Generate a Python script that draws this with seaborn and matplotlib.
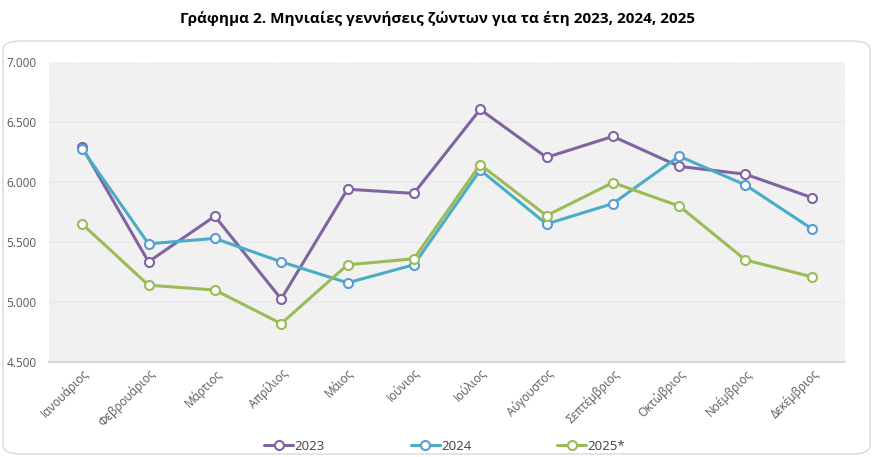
import pandas as pd
import seaborn as sns
import matplotlib.pyplot as plt
from matplotlib.patches import Rectangle, FancyBboxPatch
from matplotlib.ticker import FuncFormatter

# ------------------------------------------------------------
# Data
# ------------------------------------------------------------
months = ["Ιανουάριος", "Φεβρουάριος", "Μάρτιος", "Απρίλιος", "Μάιος", "Ιούνιος",
          "Ιούλιος", "Αύγουστος", "Σεπτέμβριος", "Οκτώβριος", "Νοέμβριος", "Δεκέμβριος"]
births_2023 = [6290, 5335, 5715, 5025, 5940, 5905, 6605, 6205, 6380, 6130, 6065, 5870]
births_2024 = [6275, 5485, 5530, 5335, 5160, 5310, 6100, 5650, 5820, 6215, 5975, 5610]
births_2025 = [5650, 5140, 5100, 4820, 5310, 5360, 6145, 5720, 5995, 5800, 5350, 5210]
series_names = ["2023", "2024", "2025*"]

df = pd.DataFrame({
    "month": months * 3,
    "births": births_2023 + births_2024 + births_2025,
    "series": sum([[s] * len(months) for s in series_names], []),
})

line_colors = {"2023": "#8064A2", "2024": "#4BACC6", "2025*": "#9BBB59"}
edge_colors = {"2023": "#8064A2", "2024": "#5B9BD5", "2025*": "#9BBB59"}

# ------------------------------------------------------------
# Plot
# ------------------------------------------------------------
sns.set_style("white")
plt.rcParams["font.family"] = ["Open Sans", "DejaVu Sans"]
plt.rcParams["hatch.linewidth"] = 0.5

fig = plt.figure(figsize=(8.75, 4.57), dpi=100)
ax = fig.add_axes([49 / 875, 1 - 362 / 457, 796 / 875, 300 / 457])

# rounded frame around the chart
fig.patches.append(FancyBboxPatch((3 / 875, 3 / 457), 867 / 875, 413 / 457,
                                  boxstyle="round,pad=0,rounding_size=0.02",
                                  transform=fig.transFigure, facecolor="none",
                                  edgecolor="#D9D9D9", linewidth=1.0, zorder=0))

# hatched plot area
ax.add_patch(Rectangle((0, 0), 1, 1, transform=ax.transAxes, facecolor="white",
                       edgecolor="#DCDCDC", hatch="\\" * 13, linewidth=0, zorder=0))

for name in series_names:
    sub = df[df["series"] == name]
    sns.lineplot(data=sub, x="month", y="births", ax=ax, sort=False,
                 color=line_colors[name], linewidth=2.2, marker="o", markersize=6.5,
                 markerfacecolor="white", markeredgecolor=edge_colors[name],
                 markeredgewidth=1.5, label=name, zorder=3)

ax.set_ylim(4500, 7000)
ax.set_xlim(-0.5, len(months) - 0.5)
ax.set_yticks([4500, 5000, 5500, 6000, 6500, 7000])
ax.yaxis.set_major_formatter(FuncFormatter(lambda v, p: f"{v:,.0f}".replace(",", ".")))
for y in [5000, 5500, 6000, 6500]:
    ax.axhline(y, color="#EBEBEB", linewidth=1.3, zorder=1)

for s in ["top", "right", "left"]:
    ax.spines[s].set_visible(False)
ax.spines["bottom"].set_color("#D9D9D9")
ax.spines["bottom"].set_linewidth(1.5)

ax.set_xlabel("")
ax.set_ylabel("")
ax.tick_params(axis="both", length=0, labelcolor="#595959")
ax.tick_params(axis="y", pad=9, labelsize=8.5)
plt.setp(ax.get_xticklabels(), rotation=45, ha="right", rotation_mode="anchor",
         fontsize=8.5)

ax.legend(loc="upper center", bbox_to_anchor=(0.497, -0.22), ncol=3, frameon=False,
          fontsize=9.5, labelcolor="#404040", columnspacing=6.5, handlelength=2.2,
          handletextpad=0.1)

fig.suptitle("Γράφημα 2. Μηνιαίες γεννήσεις ζώντων για τα έτη 2023, 2024, 2025",
             x=0.5, y=0.975, fontsize=11, fontweight="bold", color="black")

fig.savefig("out.png", dpi=100)
